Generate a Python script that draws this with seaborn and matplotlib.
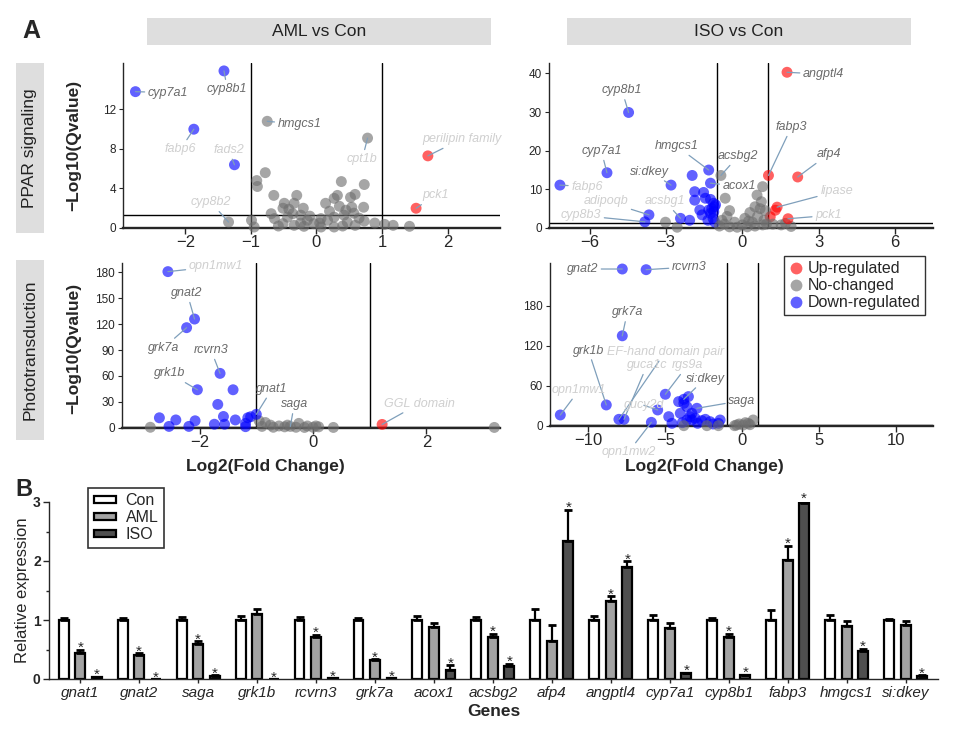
import numpy as np
import pandas as pd
import matplotlib
matplotlib.use("Agg")
import matplotlib.pyplot as plt
import seaborn as sns
from matplotlib.patches import Rectangle, Patch
from matplotlib.lines import Line2D
from matplotlib.ticker import MultipleLocator

sns.set_style("ticks")
plt.rcParams["font.family"] = ["Liberation Sans", "DejaVu Sans"]

# ---------------- data: volcano panels ----------------
# labelled genes: name, log2FC, -log10(Q), status
tl_gene = ["cyp7a1", "cyp8b1", "fabp6", "fads2", "cyp8b2", "hmgcs1", "cpt1b", "perilipin family", "pck1"]
tl_fc = [-2.76, -1.41, -1.87, -1.25, -1.34, -0.75, 0.78, 1.70, 1.52]
tl_q = [13.8, 15.9, 10.0, 6.4, 0.6, 10.8, 9.1, 7.3, 2.0]
tl_st = ["down", "down", "down", "down", "no", "no", "no", "up", "up"]
tl_bg_fc = [-0.78, -0.91, -0.90, -0.65, -0.49, -0.30, -0.51, -0.34, 0.38, 0.73, 0.59, 0.32, 0.27, 0.14,
            0.52, 0.72, 0.54, -0.69, -0.64, -0.44, -0.24, -0.14, -0.04, 0.17, 0.27, 0.42, 0.57, 0.73,
            0.89, 1.04, 1.17, 1.42, -0.51, -0.34, -0.19, 0.07, 0.27, 0.59, -0.24, 0.47, 0.07, -0.36,
            -0.99, -0.95, -0.42, -0.20, 0.05, 0.40, 0.65, -0.58, -0.10, 0.20, 0.35, 0.45]
tl_bg_q = [5.6, 4.8, 4.2, 3.3, 2.5, 3.3, 2.0, 2.5, 4.7, 4.4, 3.4, 3.3, 3.0, 2.5,
           3.1, 2.1, 2.1, 1.45, 0.95, 1.1, 1.3, 0.78, 0.44, 0.78, 1.1, 1.3, 1.5, 0.7,
           0.5, 0.37, 0.27, 0.17, 0.44, 0.27, 0.17, 0.1, 0.1, 0.27, 0.5, 0.6, 0.95, 1.45,
           0.78, 0.1, 1.9, 2.0, 0.5, 0.2, 1.0, 0.2, 1.2, 1.7, 2.2, 1.8]

tr_gene = ["angptl4", "cyp8b1", "cyp7a1", "fabp6", "hmgcs1", "acsbg2", "si:dkey", "acox1", "fabp3",
           "afp4", "lipase", "pck1", "adipoqb", "acsbg1", "cyp8b3"]
tr_fc = [1.76, -4.47, -5.32, -7.17, -1.32, -0.84, -2.80, -1.25, 1.03, 2.18, 1.37, 1.80, -3.67, -2.43, -3.83]
tr_q = [40.3, 29.9, 14.3, 11.1, 15.0, 13.6, 11.1, 11.6, 13.6, 13.2, 5.4, 2.4, 3.4, 2.5, 1.6]
tr_st = ["up", "down", "down", "down", "down", "no", "down", "down", "up", "up", "up", "up", "down", "down", "down"]
tr_bg_fc = [1.30, 1.10, -2.07, -1.97, -1.87, -1.87, -1.52, -1.45, -1.25, -1.13, -1.67, -1.32, -1.58, -1.25,
            -1.10, -1.15, -1.08, -1.20, -1.05, -1.12, -1.35,
            -3.02, -2.56, 0.80, 0.58, -0.67, 0.75, 0.50, 0.30, 0.10, -0.50, -0.60, -0.80, -0.30, 0.00,
            0.40, 0.60, 0.90, 0.85, -0.90, -0.50, -0.20, 0.20, 0.50, 0.80, 1.20, 1.53, 1.92, 1.70,
            -0.70, 0.25, 0.70, 0.95]
tr_bg_q = [4.6, 2.9, 2.0, 13.6, 9.4, 7.2, 9.2, 7.7, 7.4, 6.4, 4.65, 4.65, 3.4, 3.8,
           5.5, 2.5, 1.5, 5.0, 6.0, 4.2, 2.0,
           1.5, 0.2, 10.7, 8.5, 7.7, 6.8, 5.5, 4.0, 2.5, 4.5, 3.0, 2.0, 1.5, 0.8,
           1.5, 3.0, 4.5, 2.0, 0.5, 0.3, 0.2, 0.3, 0.5, 0.8, 1.0, 0.8, 0.4, 1.2,
           1.0, 1.8, 5.0, 1.0]
tr_bg_st = ["up", "up"] + ["down"] * 19 + ["no"] * 32

bl_gene = ["opn1mw1", "gnat2", "grk7a", "rcvrn3", "grk1b", "gnat1", "saga", "GGL domain"]
bl_fc = [-2.56, -2.09, -2.23, -1.64, -2.04, -1.00, -0.40, 1.22]
bl_q = [181, 126, 116, 63, 44, 15.5, 1.5, 3.8]
bl_st = ["down", "down", "down", "down", "down", "down", "no", "up"]
bl_bg_fc = [-1.41, -1.68, -1.58, -2.71, -2.54, -2.42, -2.19, -2.08, -1.74, -1.56, -1.37, -1.15, -1.19,
            -1.19, -1.10,
            -2.87, -0.95, -0.84, -0.75, -0.25, -0.60, -0.50, -0.30, -0.10, 0.00, -0.15, 0.10, 0.36,
            3.20, -0.70, -0.90, -0.45, 0.05]
bl_bg_q = [44, 27, 13, 11.5, 1.5, 9, 1.5, 8, 4, 4, 9, 11.5, 5, 1.2, 12.7,
           0.5, 8, 6, 3, 5, 2, 1, 0.5, 2, 0.5, 0.3, 1, 0.3, 0.3, 0.5, 1.5, 3, 2]
bl_bg_st = ["down"] * 15 + ["no"] * 18

br_gene = ["gnat2", "rcvrn3", "grk7a", "grk1b", "opn1mw1", "EF-hand domain pair", "guca1c", "gucy2d",
           "opn1mw2", "rgs9a", "si:dkey", "saga"]
br_fc = [-7.80, -6.25, -7.80, -8.84, -11.83, -8.02, -7.69, -5.50, -5.91, -5.00, -3.80, -2.95]
br_q = [235, 234, 135, 31.5, 16.5, 10, 10, 24, 5.5, 47.5, 40, 26.5]
br_st = ["down"] * 12
br_bg_fc = [-4.14, -3.80, -4.78, -4.57, -4.03, -3.60, -3.28, -3.28, -2.63, -2.09, -1.44, -1.55, -3.60,
            -3.06, -2.40, -3.90, -2.90, -1.90, -3.40, -3.50,
            -3.80, -2.30, -1.55, -0.37, 0.06, 0.71, 0.39, -0.20, 0.50, -0.50, 0.20]
br_bg_q = [36.5, 34, 14, 4, 19, 29, 19, 9, 8, 6.5, 9, 4, 9, 11.5, 10, 5, 4, 3, 14, 44,
           0.5, 0.5, 0.5, 1.5, 1.5, 9, 4, 3, 2, 0.5, 5]
br_bg_st = ["down"] * 20 + ["no"] * 11

# ---------------- data: qPCR bars ----------------
genes = ["gnat1", "gnat2", "saga", "grk1b", "rcvrn3", "grk7a", "acox1", "acsbg2", "afp4",
         "angptl4", "cyp7a1", "cyp8b1", "fabp3", "hmgcs1", "si:dkey"]
con = [1.0] * 15
con_err = [0.03, 0.03, 0.05, 0.06, 0.05, 0.03, 0.07, 0.05, 0.19, 0.06, 0.09, 0.03, 0.17, 0.08, 0.02]
aml = [0.44, 0.41, 0.60, 1.11, 0.71, 0.32, 0.88, 0.72, 0.65, 1.33, 0.86, 0.72, 2.01, 0.89, 0.92]
aml_err = [0.06, 0.03, 0.04, 0.07, 0.04, 0.02, 0.07, 0.05, 0.27, 0.07, 0.09, 0.05, 0.25, 0.10, 0.06]
iso = [0.03, 0.0, 0.05, 0.0, 0.01, 0.01, 0.15, 0.22, 2.34, 1.90, 0.10, 0.06, 2.98, 0.47, 0.05]
iso_err = [0.01, 0.0, 0.01, 0.0, 0.0, 0.0, 0.08, 0.04, 0.53, 0.10, 0.01, 0.01, 0.04, 0.04, 0.01]
aml_sig = [1, 1, 1, 0, 1, 1, 0, 1, 0, 1, 0, 1, 1, 0, 0]
iso_sig = [1] * 15

ORDER = ["up", "no", "down"]
PAL = {"up": "#ff0000", "no": "#6e6e6e", "down": "#0000ff"}
NAMES = {"up": "Up-regulated", "no": "No-changed", "down": "Down-regulated"}
DARK, LIGHT = "#6a6a6a", "#cfcfcf"


def make_df(gene, fc, q, st, bg_fc, bg_q, bg_st):
    fg = pd.DataFrame({"gene": gene, "fc": fc, "q": q, "status": st})
    bg = pd.DataFrame({"gene": "", "fc": bg_fc, "q": bg_q, "status": bg_st})
    return pd.concat([bg, fg], ignore_index=True)


def volcano(ax, df, notes, xlim, ylim, xticks, yticks):
    sns.scatterplot(data=df, x="fc", y="q", hue="status", hue_order=ORDER, palette=PAL,
                    s=62, alpha=0.62, linewidth=0, legend=False, ax=ax,
                    clip_on=False, zorder=3)
    for v in (-1, 1):
        ax.axvline(v, color="black", lw=1, zorder=2)
    ax.axhline(1.3, color="black", lw=1, zorder=2)
    ax.set_xlim(xlim)
    ax.set_ylim(ylim)
    ax.set_xticks(xticks)
    ax.set_yticks(yticks)
    ax.set_xlabel("")
    ax.set_ylabel("")
    ax.tick_params(axis="x", labelsize=12, length=4, width=1, pad=1)
    ax.tick_params(axis="y", labelsize=8.5, length=3, width=0.8, pad=2)
    sns.despine(ax=ax)
    ax.spines["bottom"].set_linewidth(1.7)
    ax.spines["left"].set_linewidth(1.0)
    look = df[df["gene"] != ""].set_index("gene")
    for gene, tx, ty, ha, tone in notes:
        x, y = look.loc[gene, "fc"], look.loc[gene, "q"]
        ax.annotate(gene, xy=(x, y), xytext=(tx, ty), ha=ha, va="center", fontsize=9,
                    style="italic", color=tone, annotation_clip=False, zorder=4,
                    arrowprops=dict(arrowstyle="-", color="#7f9fbb", lw=0.9,
                                    shrinkA=0, shrinkB=0))


W, H = 970, 731
fig = plt.figure(figsize=(9.7, 7.31), dpi=100)


def box(l, t, r, b):
    return [l / W, 1 - b / H, (r - l) / W, (b - t) / H]


ax_tl = fig.add_axes(box(123, 63, 500, 228))
ax_tr = fig.add_axes(box(549, 63, 933, 228))
ax_bl = fig.add_axes(box(122, 263, 500, 427.7))
ax_br = fig.add_axes(box(550, 263, 933, 426))
ax_b = fig.add_axes(box(49, 502, 938, 679))

volcano(ax_tl, make_df(tl_gene, tl_fc, tl_q, tl_st, tl_bg_fc, tl_bg_q, ["no"] * len(tl_bg_fc)),
        [("cyp7a1", -2.57, 13.7, "left", DARK),
         ("cyp8b1", -1.36, 14.1, "center", DARK),
         ("fabp6", -2.07, 8.0, "center", LIGHT),
         ("fads2", -1.34, 7.9, "center", LIGHT),
         ("cyp8b2", -1.61, 2.6, "center", LIGHT),
         ("hmgcs1", -0.59, 10.5, "left", DARK),
         ("cpt1b", 0.70, 7.0, "center", LIGHT),
         ("perilipin family", 1.61, 9.0, "left", LIGHT),
         ("pck1", 1.61, 3.3, "left", LIGHT)],
        (-2.95, 2.8), (0, 16.7), [-2, -1, 0, 1, 2], [0, 4, 8, 12])

volcano(ax_tr, make_df(tr_gene, tr_fc, tr_q, tr_st, tr_bg_fc, tr_bg_q, tr_bg_st),
        [("angptl4", 2.39, 39.8, "left", DARK),
         ("cyp8b1", -4.73, 35.6, "center", DARK),
         ("cyp7a1", -5.54, 19.9, "center", DARK),
         ("fabp6", -6.72, 10.7, "left", LIGHT),
         ("hmgcs1", -2.58, 21.2, "center", DARK),
         ("acsbg2", -0.16, 18.6, "center", DARK),
         ("si:dkey", -3.63, 14.6, "center", DARK),
         ("acox1", -0.77, 10.8, "left", DARK),
         ("fabp3", 1.93, 26.1, "center", DARK),
         ("afp4", 3.39, 19.1, "center", DARK),
         ("lipase", 3.07, 9.5, "left", LIGHT),
         ("pck1", 2.87, 3.25, "left", LIGHT),
         ("adipoqb", -5.37, 6.9, "center", LIGHT),
         ("acsbg1", -3.04, 6.9, "center", LIGHT),
         ("cyp8b3", -6.35, 3.25, "center", LIGHT)],
        (-7.6, 7.5), (0, 42.7), [-6, -3, 0, 3, 6], [0, 10, 20, 30, 40])

volcano(ax_bl, make_df(bl_gene, bl_fc, bl_q, bl_st, bl_bg_fc, bl_bg_q, bl_bg_st),
        [("opn1mw1", -2.19, 187, "left", LIGHT),
         ("gnat2", -2.22, 156, "center", DARK),
         ("grk7a", -2.63, 93, "center", DARK),
         ("rcvrn3", -1.80, 90, "center", DARK),
         ("grk1b", -2.53, 63, "center", DARK),
         ("gnat1", -0.72, 45, "center", DARK),
         ("saga", -0.33, 27, "center", DARK),
         ("GGL domain", 1.88, 28, "center", LIGHT)],
        (-3.37, 3.3), (0, 191), [-2, 0, 2], [0, 30, 60, 90, 120, 150, 180])

volcano(ax_br, make_df(br_gene, br_fc, br_q, br_st, br_bg_fc, br_bg_q, br_bg_st),
        [("gnat2", -9.38, 235, "right", DARK),
         ("rcvrn3", -4.57, 238, "left", DARK),
         ("grk7a", -7.48, 170, "center", DARK),
         ("grk1b", -10.0, 113, "center", DARK),
         ("EF-hand domain pair", -5.0, 111, "center", LIGHT),
         ("guca1c", -6.19, 91, "center", LIGHT),
         ("rgs9a", -3.56, 91, "center", LIGHT),
         ("si:dkey", -2.41, 71, "center", DARK),
         ("saga", -0.9, 38, "left", DARK),
         ("opn1mw1", -10.6, 54, "center", LIGHT),
         ("gucy2d", -6.4, 31, "center", LIGHT),
         ("opn1mw2", -7.4, -39, "center", LIGHT)],
        (-12.5, 12.4), (0, 244), [-10, -5, 0, 5, 10], [0, 60, 120, 180])

handles = [Line2D([], [], ls="", marker="o", ms=8.5, mec="none", mfc=PAL[k], alpha=0.62,
                  label=NAMES[k]) for k in ORDER]
leg = ax_br.legend(handles=handles, loc="upper right", bbox_to_anchor=(0.98, 1.04),
                   borderaxespad=0, fontsize=11.5, frameon=True, fancybox=False,
                   handletextpad=0.2, handlelength=1.0, labelspacing=0.12, borderpad=0.3)
leg.get_frame().set_edgecolor("black")
leg.get_frame().set_linewidth(1.0)

# strips and shared labels
STRIP = "#dedede"
for l, t, r, b, txt, rot in [(147, 18, 491, 45, "AML vs Con", 0),
                             (567, 18, 911, 45, "ISO vs Con", 0),
                             (16, 63, 44, 233, "PPAR signaling", 90),
                             (16, 260, 44, 440, "Phototransduction", 90)]:
    fig.patches.append(Rectangle((l / W, 1 - b / H), (r - l) / W, (b - t) / H,
                                 transform=fig.transFigure, facecolor=STRIP, edgecolor="none"))
    fig.text((l + r) / 2 / W, 1 - (t + b) / 2 / H, txt, rotation=rot, ha="center",
             va="center", fontsize=12.5, color="#222222")

for yc in (145, 348):
    fig.text(74 / W, 1 - yc / H, "\u2212Log10(Qvalue)", rotation=90, ha="center",
             va="center", fontsize=12.5, fontweight="bold")
for xc in (265, 704):
    fig.text(xc / W, 1 - 466 / H, "Log2(Fold Change)", ha="center", va="center",
             fontsize=12.5, fontweight="bold")
fig.text(22 / W, 1 - 31 / H, "A", fontsize=18, fontweight="bold", va="center")
fig.text(15 / W, 1 - 490 / H, "B", fontsize=17, fontweight="bold", va="center")

# ---------------- bar chart ----------------
GROUPS = ["Con", "AML", "ISO"]
BAR_PAL = {"Con": "white", "AML": "#a3a3a3", "ISO": "#4f4f4f"}
bar_df = pd.DataFrame({
    "gene": genes * 3,
    "group": ["Con"] * 15 + ["AML"] * 15 + ["ISO"] * 15,
    "value": con + aml + iso,
})
sns.barplot(data=bar_df, x="gene", y="value", hue="group", hue_order=GROUPS, palette=BAR_PAL,
            width=0.84, gap=0.4, edgecolor="black", linewidth=1.6, errorbar=None,
            legend=False, ax=ax_b)
errs = [con_err, aml_err, iso_err]
sigs = [[0] * 15, aml_sig, iso_sig]
for cont, err, sig in zip(ax_b.containers, errs, sigs):
    for patch, e, s in zip(cont.patches, err, sig):
        x = patch.get_x() + patch.get_width() / 2
        top = patch.get_height()
        if e > 0:
            ax_b.errorbar(x, top, yerr=[[0], [e]], fmt="none", ecolor="black",
                          elinewidth=1.6, capsize=2.6, capthick=2.0, zorder=3)
        if s:
            ax_b.text(x, top + e - 0.04, "*", ha="center", va="baseline", fontsize=11)

ax_b.set_xlim(-0.53, 14.55)
ax_b.set_ylim(0, 3)
ax_b.yaxis.set_major_locator(MultipleLocator(1))
ax_b.yaxis.set_minor_locator(MultipleLocator(0.5))
ax_b.tick_params(axis="y", which="major", length=4, width=1, labelsize=10, pad=2)
ax_b.tick_params(axis="y", which="minor", length=2.5, width=1)
ax_b.tick_params(axis="x", length=3, width=1, labelsize=11, pad=2)
for lab in ax_b.get_yticklabels():
    lab.set_fontweight("bold")
for lab in ax_b.get_xticklabels():
    lab.set_fontstyle("italic")
ax_b.set_xlabel("Genes", fontsize=12.5, fontweight="bold", labelpad=3)
ax_b.set_ylabel("Relative expression", fontsize=12, labelpad=2)
sns.despine(ax=ax_b)
ax_b.spines["left"].set_linewidth(1.0)
ax_b.spines["bottom"].set_linewidth(1.0)

bar_handles = [Patch(facecolor=BAR_PAL[g], edgecolor="black", linewidth=1.6, label=g)
               for g in GROUPS]
bleg = ax_b.legend(handles=bar_handles, loc="upper left", bbox_to_anchor=(0.044, 1.08),
                   borderaxespad=0, fontsize=11.5, frameon=True, fancybox=False,
                   handlelength=1.4, handleheight=0.35, handletextpad=0.6,
                   labelspacing=0.12, borderpad=0.35)
bleg.get_frame().set_edgecolor("black")
bleg.get_frame().set_linewidth(1.2)

fig.savefig("out.png", dpi=100)
